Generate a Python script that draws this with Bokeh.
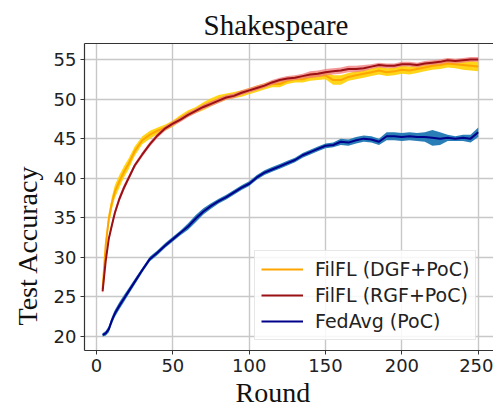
from bokeh.plotting import figure
from bokeh.models import Range1d, Legend, LegendItem, FixedTicker, Title, LinearAxis
from bokeh.embed import file_html
from bokeh.resources import INLINE

rounds = [4, 6, 8, 10, 12, 15, 18, 21, 25,
          30, 35, 40, 45, 50, 55, 60, 65, 70, 75, 80, 85, 90, 95, 100,
          105, 110, 115, 120, 125, 130, 135, 140, 145, 150, 155, 160, 165, 170, 175,
          180, 185, 190, 195, 200, 205, 210, 215, 220, 225, 230, 235, 240, 245, 250]

dgf = [26.0, 31.5, 34.8, 36.8, 38.3, 39.6, 40.8, 41.8, 43.4,
       44.8, 45.5, 46.0, 46.4, 46.9, 47.6, 48.2, 48.6, 49.1, 49.6, 50.0, 50.3, 50.5, 50.7, 51.0,
       51.3, 51.6, 51.9, 51.9, 52.3, 52.5, 52.5, 52.8, 52.9, 53.0, 52.4, 52.4, 52.8, 53.0, 53.2,
       53.4, 53.6, 53.4, 53.5, 53.7, 53.6, 53.8, 54.0, 54.2, 54.3, 54.5, 54.4, 54.3, 54.2, 54.1]

rgf = [25.7, 29.5, 32.3, 34.0, 35.6, 37.4, 38.8, 40.0, 41.6,
       43.0, 44.3, 45.4, 46.3, 46.9, 47.4, 48.0, 48.5, 49.0, 49.4, 49.8, 50.2, 50.4, 50.8, 51.1,
       51.4, 51.7, 52.1, 52.4, 52.6, 52.7, 52.9, 53.1, 53.2, 53.4, 53.5, 53.6, 53.8, 53.8, 53.9,
       54.1, 54.3, 54.2, 54.2, 54.4, 54.4, 54.3, 54.5, 54.6, 54.7, 54.9, 54.8, 54.9, 55.0, 55.0]

fedavg = [20.2, 20.4, 20.9, 22.0, 22.9, 23.9, 24.8, 25.7, 26.9,
          28.4, 29.8, 30.6, 31.5, 32.3, 33.1, 33.9, 34.9, 35.8, 36.5, 37.1, 37.6, 38.2, 38.8, 39.3,
          40.1, 40.7, 41.1, 41.5, 41.9, 42.3, 42.9, 43.3, 43.7, 44.1, 44.2, 44.6, 44.5, 44.8, 45.0,
          44.9, 44.6, 45.3, 45.3, 45.2, 45.3, 45.2, 45.2, 45.1, 45.0, 45.1, 45.0, 45.1, 45.0, 45.8]

dgf_sd = [0.5, 0.8, 0.8, 0.8, 0.8, 0.8, 0.7, 0.7, 0.6,
          0.5, 0.5, 0.4, 0.4, 0.4, 0.4, 0.4, 0.4, 0.5, 0.5, 0.5, 0.4, 0.4, 0.4, 0.4,
          0.4, 0.4, 0.4, 0.4, 0.4, 0.4, 0.4, 0.5, 0.5, 0.5, 0.6, 0.6, 0.5, 0.5, 0.5,
          0.5, 0.5, 0.5, 0.5, 0.5, 0.5, 0.5, 0.5, 0.5, 0.5, 0.5, 0.5, 0.6, 0.6, 0.6]

rgf_sd = [0.4, 0.4, 0.4, 0.4, 0.4, 0.4, 0.4, 0.3, 0.3,
          0.3, 0.3, 0.3, 0.3, 0.3, 0.3, 0.3, 0.3, 0.3, 0.3, 0.3, 0.3, 0.3, 0.3, 0.3,
          0.3, 0.3, 0.3, 0.3, 0.3, 0.3, 0.3, 0.4, 0.4, 0.4, 0.4, 0.4, 0.4, 0.4, 0.4,
          0.3, 0.3, 0.3, 0.3, 0.3, 0.3, 0.3, 0.3, 0.3, 0.3, 0.3, 0.3, 0.3, 0.3, 0.3]

fedavg_sd = [0.2, 0.3, 0.4, 0.45, 0.45, 0.45, 0.45, 0.4, 0.35,
             0.3, 0.3, 0.3, 0.3, 0.3, 0.3, 0.4, 0.45, 0.4, 0.35, 0.3, 0.3, 0.3, 0.3, 0.3,
             0.3, 0.3, 0.3, 0.3, 0.3, 0.3, 0.3, 0.3, 0.3, 0.3, 0.3, 0.4, 0.4, 0.4, 0.4,
             0.4, 0.4, 0.5, 0.5, 0.5, 0.5, 0.5, 0.6, 1.0, 0.8, 0.4, 0.3, 0.4, 0.5, 0.6]

x_ticks = [0, 50, 100, 150, 200, 250]
y_ticks = [20, 25, 30, 35, 40, 45, 50, 55]

title_text = "Shakespeare"
x_label = "Round"
y_label = "Test Accuracy"
series_labels = ["FilFL (DGF+PoC)", "FilFL (RGF+PoC)", "FedAvg (PoC)"]

p = figure(width=493, height=411, output_backend="svg", toolbar_location=None,
           x_range=Range1d(-7.86, 260.0), y_range=Range1d(18.23, 57.02),
           min_border_left=84, min_border_right=0, min_border_top=43, min_border_bottom=61)

p.background_fill_color = "white"
p.outline_line_color = None

bottom_axis = p.below[0]
left_axis = p.left[0]

def lo(v, s):
    return [a - b for a, b in zip(v, s)]

def hi(v, s):
    return [a + b for a, b in zip(v, s)]

p.varea(x=rounds, y1=lo(dgf, dgf_sd), y2=hi(dgf, dgf_sd), fill_color="#FFD000", fill_alpha=0.9)
r1 = p.line(rounds, dgf, line_color="#FFA500", line_width=2)
p.varea(x=rounds, y1=lo(rgf, rgf_sd), y2=hi(rgf, rgf_sd), fill_color="#F08080", fill_alpha=0.8)
r2 = p.line(rounds, rgf, line_color="#9B1015", line_width=2)
p.varea(x=rounds, y1=lo(fedavg, fedavg_sd), y2=hi(fedavg, fedavg_sd), fill_color="#1F77B4", fill_alpha=0.95)
r3 = p.line(rounds, fedavg, line_color="#00008B", line_width=2)

for ax in (bottom_axis, left_axis):
    ax.axis_line_color = "#333333"
    ax.axis_line_width = 1.2
    ax.major_tick_line_color = "#333333"
    ax.major_tick_in = 0
    ax.major_tick_out = 4
    ax.minor_tick_line_color = None
    ax.major_label_text_font = "DejaVu Sans"
    ax.major_label_text_font_size = "18px"
    ax.major_label_text_color = "#222222"
    ax.major_label_standoff = 4

bottom_axis.ticker = FixedTicker(ticks=x_ticks)
left_axis.ticker = FixedTicker(ticks=y_ticks)

p.grid.grid_line_color = "#c8c8c8"
p.grid.grid_line_width = 1.4
p.xgrid.ticker = FixedTicker(ticks=x_ticks)
p.ygrid.ticker = FixedTicker(ticks=y_ticks)

# top spine only (no ticks, no labels)
top_axis = LinearAxis(ticker=FixedTicker(ticks=[]), axis_line_color="#333333", axis_line_width=1.2,
                      major_tick_line_color=None, minor_tick_line_color=None,
                      major_label_text_font_size="0px", major_tick_out=0, major_tick_in=0,
                      major_label_standoff=0)
p.add_layout(top_axis, "above")

p.title.text = title_text
p.title.text_font = "Liberation Serif"
p.title.text_font_size = "29px"
p.title.text_font_style = "normal"
p.title.text_color = "#111111"
p.title.align = "left"
p.title.offset = 119
p.title.standoff = 5

xl = Title(text=x_label, align="left", offset=151, text_font="Liberation Serif",
           text_font_size="28px", text_font_style="normal", text_color="#111111", standoff=0)
p.add_layout(xl, "below")
yl = Title(text=y_label, align="left", offset=25, text_font="Liberation Serif",
           text_font_size="28px", text_font_style="normal", text_color="#111111", standoff=16)
p.add_layout(yl, "left")

legend = Legend(items=[LegendItem(label=series_labels[0], renderers=[r1]),
                       LegendItem(label=series_labels[1], renderers=[r2]),
                       LegendItem(label=series_labels[2], renderers=[r3])],
                location=(170, 10))
legend.margin = 0
legend.padding = 6
legend.spacing = 2
legend.glyph_width = 42
legend.glyph_height = 24
legend.label_height = 24
legend.label_standoff = 12
legend.label_text_font = "DejaVu Sans"
legend.label_text_font_size = "19px"
legend.label_text_color = "#222222"
legend.border_line_color = "#d0d0d0"
legend.border_line_width = 1
legend.background_fill_alpha = 0.85
p.add_layout(legend)

open("out.html", "w").write(file_html(p, INLINE))
